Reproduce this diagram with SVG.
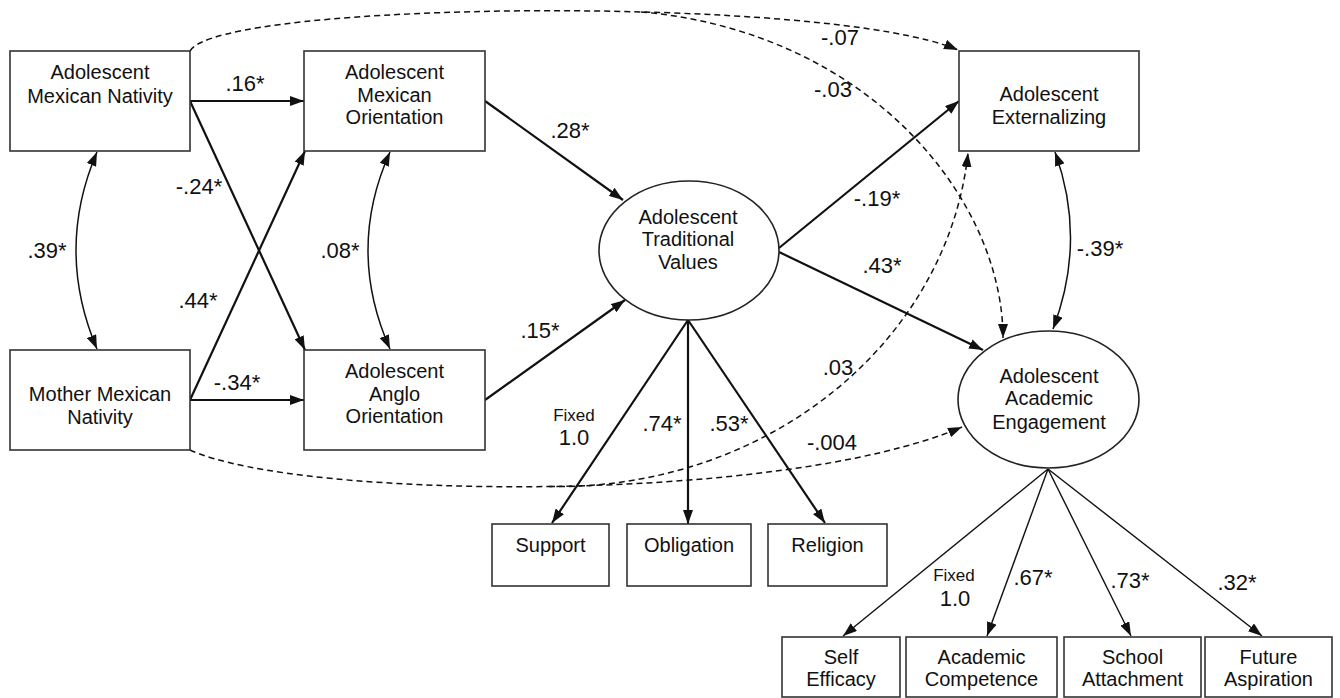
<svg xmlns="http://www.w3.org/2000/svg" width="1340" height="698" viewBox="0 0 1340 698">
<style>
.box{fill:#fff;stroke:#333;stroke-width:1.6}
.ell{fill:#fff;stroke:#222;stroke-width:1.6}
.t{font-family:"Liberation Sans",Arial,sans-serif;font-size:20px;fill:#111;text-anchor:middle}
.l{font-family:"Liberation Sans",Arial,sans-serif;font-size:22px;fill:#111;text-anchor:middle}
.s{font-family:"Liberation Sans",Arial,sans-serif;font-size:17px;fill:#111;text-anchor:middle}
.p{fill:none;stroke:#111;stroke-width:2.2;marker-end:url(#ah)}
.q{fill:none;stroke:#111;stroke-width:1.4;marker-end:url(#ah)}
.c{fill:none;stroke:#111;stroke-width:1.5;marker-start:url(#ah);marker-end:url(#ah)}
.d{fill:none;stroke:#111;stroke-width:1.5;stroke-dasharray:6 4;marker-end:url(#ah)}
</style>
<defs>
<marker id="ah" markerUnits="userSpaceOnUse" markerWidth="14" markerHeight="10" refX="14" refY="5" orient="auto-start-reverse">
<path d="M0,0 L14,5 L0,10 z" fill="#111"/>
</marker>
</defs>
<rect width="1340" height="698" fill="#fff"/>
<g id="connectors">
<path class="p" d="M190,101 L304,101"/>
<path class="p" d="M190,101 L305,350"/>
<path class="p" d="M190,400 L305,151"/>
<path class="p" d="M190,400 L304,400"/>
<path class="c" d="M97,152 Q55,250 97,349"/>
<path class="c" d="M390,152 Q346,250 390,349"/>
<path class="p" d="M485,101 L623,200"/>
<path class="p" d="M485,400 L625,300"/>
<path class="p" d="M779,248 L959,101"/>
<path class="p" d="M779,252 L983,350"/>
<path class="c" d="M1055,152 Q1087,240 1053,329"/>
<path class="p" d="M688,320 L552,523"/>
<path class="p" d="M688,320 L688,524"/>
<path class="p" d="M688,320 L825,523"/>
<path class="q" d="M1048,469 L843,636"/>
<path class="q" d="M1048,469 L987,636"/>
<path class="q" d="M1048,469 L1131,636"/>
<path class="q" d="M1048,469 L1262,636"/>
<path class="d" d="M190,51 C220,0 830,-5 958,50"/>
<path class="d" d="M641,11.9 C870,32 1003,200 1003,338"/>
<path class="d" d="M190,450 C300,500 780,505 962,427"/>
<path class="d" d="M549,486.5 C770,490 948,340 968,153"/>
</g>
<g id="n_amn"><rect class="box" x="10" y="51" width="180" height="100"/><text class="t" x="100" y="79">Adolescent</text><text class="t" x="100" y="103">Mexican Nativity</text></g>
<g id="n_amo"><rect class="box" x="304" y="51" width="181" height="100"/><text class="t" x="394.5" y="79">Adolescent</text><text class="t" x="394.5" y="101.5">Mexican</text><text class="t" x="394.5" y="124">Orientation</text></g>
<g id="n_mmn"><rect class="box" x="10" y="350" width="180" height="100"/><text class="t" x="100" y="401">Mother Mexican</text><text class="t" x="100" y="424">Nativity</text></g>
<g id="n_aao"><rect class="box" x="304" y="350" width="181" height="100"/><text class="t" x="394.5" y="378">Adolescent</text><text class="t" x="394.5" y="401">Anglo</text><text class="t" x="394.5" y="423">Orientation</text></g>
<g id="n_tv"><ellipse class="ell" cx="689" cy="250.5" rx="90" ry="69.5"/><text class="t" x="688" y="224">Adolescent</text><text class="t" x="688" y="246">Traditional</text><text class="t" x="688" y="269">Values</text></g>
<g id="n_ext"><rect class="box" x="959" y="51" width="180" height="100"/><text class="t" x="1049" y="101">Adolescent</text><text class="t" x="1049" y="124">Externalizing</text></g>
<g id="n_eng"><ellipse class="ell" cx="1048.5" cy="399.5" rx="90.5" ry="68.5"/><text class="t" x="1049" y="383">Adolescent</text><text class="t" x="1049" y="405">Academic</text><text class="t" x="1049" y="429">Engagement</text></g>
<g id="n_sup"><rect class="box" x="492" y="524" width="117" height="62"/><text class="t" x="550.5" y="552">Support</text></g>
<g id="n_obl"><rect class="box" x="627" y="524" width="124" height="62"/><text class="t" x="689" y="552">Obligation</text></g>
<g id="n_rel"><rect class="box" x="768" y="524" width="119" height="62"/><text class="t" x="827.5" y="552">Religion</text></g>
<g id="n_se"><rect class="box" x="782" y="637" width="118" height="60"/><text class="t" x="841" y="664">Self</text><text class="t" x="841" y="686">Efficacy</text></g>
<g id="n_ac"><rect class="box" x="906" y="637" width="151" height="60"/><text class="t" x="981.5" y="664">Academic</text><text class="t" x="981.5" y="686">Competence</text></g>
<g id="n_sa"><rect class="box" x="1064" y="637" width="137" height="60"/><text class="t" x="1132.5" y="664">School</text><text class="t" x="1132.5" y="686">Attachment</text></g>
<g id="n_fa"><rect class="box" x="1205" y="637" width="127" height="60"/><text class="t" x="1268.5" y="664">Future</text><text class="t" x="1268.5" y="686">Aspiration</text></g>
<g id="labels">
<text class="l" x="245" y="91">.16*</text>
<text class="l" x="199" y="194">-.24*</text>
<text class="l" x="47" y="258">.39*</text>
<text class="l" x="198" y="308">.44*</text>
<text class="l" x="237" y="390">-.34*</text>
<text class="l" x="340" y="258">.08*</text>
<text class="l" x="570" y="138">.28*</text>
<text class="l" x="540" y="338">.15*</text>
<text class="l" x="840" y="45">-.07</text>
<text class="l" x="833" y="97">-.03</text>
<text class="l" x="877" y="206">-.19*</text>
<text class="l" x="882" y="273">.43*</text>
<text class="l" x="1100" y="256">-.39*</text>
<text class="l" x="838" y="375">.03</text>
<text class="l" x="832" y="450">-.004</text>
<text class="s" x="574" y="421">Fixed</text>
<text class="l" x="574" y="445">1.0</text>
<text class="l" x="662" y="431">.74*</text>
<text class="l" x="729" y="431">.53*</text>
<text class="s" x="954" y="581">Fixed</text>
<text class="l" x="955" y="606">1.0</text>
<text class="l" x="1033" y="585">.67*</text>
<text class="l" x="1130" y="588">.73*</text>
<text class="l" x="1237" y="590">.32*</text>
</g>
</svg>
